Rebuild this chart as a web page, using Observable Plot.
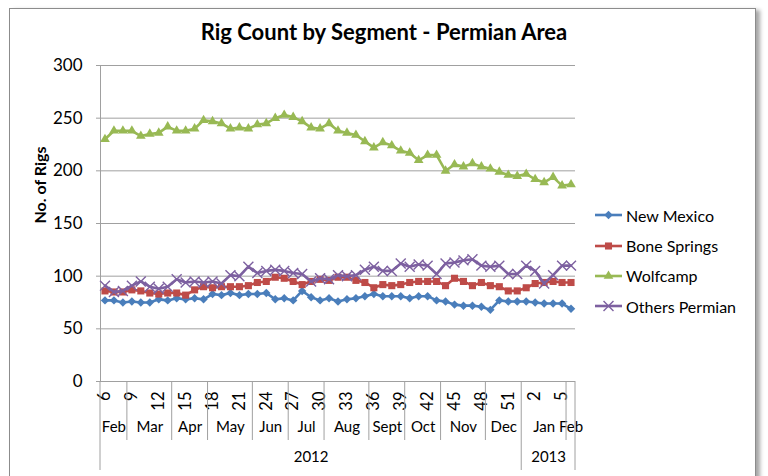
<!DOCTYPE html>
<html><head><meta charset="utf-8">
<script src="https://cdn.jsdelivr.net/npm/d3@7"></script>
<script src="https://cdn.jsdelivr.net/npm/@observablehq/plot@0.6"></script>
<style>
body{margin:0;background:#fff;font-family:Lato,"Open Sans",sans-serif;}
#wrap{position:relative;width:768px;height:476px;overflow:hidden;background:#fff;}
#chart{position:absolute;left:0;top:0;}
#frame{position:absolute;left:9px;top:8px;width:745px;height:490px;border:1px solid #8c8c8c;box-shadow:4px 2px 4px rgba(0,0,0,0.35);pointer-events:none;}
#title{position:absolute;left:0;width:768px;top:18px;text-align:center;font-weight:bold;font-size:22px;color:#000;}
#legend{position:absolute;left:595px;top:200px;font-size:16px;color:#000;}
#legend .row{height:30.4px;display:flex;align-items:center;}
#legend svg{margin-right:3px;}
</style></head>
<body>
<div id="wrap"><div id="chart"></div><div id="frame"></div><div id="title">Rig Count by Segment - Permian Area</div><div id="legend"></div></div>
<script>
// Week numbers (2012 wk 6 .. 2013 wk 6)
const weeks = [6,7,8,9,10,11,12,13,14,15,16,17,18,19,20,21,22,23,24,25,26,27,28,29,30,31,32,33,34,35,36,37,38,39,40,41,42,43,44,45,46,47,48,49,50,51,52,1,2,3,4,5,6];
const months = ["Feb","Mar","Apr","May","Jun","Jul","Aug","Sept","Oct","Nov","Dec","Jan","Feb"];
const monthWeeks = [3,5,4,5,4,4,5,4,4,5,4,5,1];
const years = ["2012","2013"];
const yearWeeks = [47,6];
const yTicks = [0,50,100,150,200,250,300];

const newMexico = [77,77,75,76,75,75,78,77,79,78,79,78,83,82,84,82,83,83,84,78,79,77,86,80,77,79,76,78,79,81,83,81,81,81,79,81,81,77,76,73,72,72,71,68,77,76,76,76,75,74,74,74,69];
const boneSprings = [86,85,85,87,86,84,83,84,84,82,87,90,89,90,90,90,91,94,95,99,98,95,92,95,97,96,99,99,96,94,89,92,91,92,94,95,95,95,91,98,95,91,94,91,90,86,86,89,93,94,95,94,94];
const wolfcamp = [230,238,238,238,233,235,236,242,238,238,240,248,247,245,240,241,240,244,245,250,253,251,247,241,240,245,238,236,234,228,222,227,224,219,217,210,215,215,200,206,204,207,204,202,199,196,195,197,192,189,194,186,187];
const othersPermian = [91,85,86,91,95,90,88,90,97,94,95,94,95,93,101,100,109,103,105,106,105,103,102,95,98,97,101,100,101,106,109,105,105,112,109,111,110,102,112,113,115,116,110,109,110,102,102,110,105,93,101,110,110];

const series = [
  {name:"New Mexico", values:newMexico, color:"#4a7ebb", symbol:"diamond2", r:3.8, filled:true},
  {name:"Bone Springs", values:boneSprings, color:"#be4b48", symbol:"square", r:4, filled:true},
  {name:"Wolfcamp", values:wolfcamp, color:"#98b954", symbol:"triangle", r:3.6, filled:true},
  {name:"Others Permian", values:othersPermian, color:"#7d60a0", symbol:"times", r:4.6, filled:false}
];

const N = weeks.length;
const idx = d3.range(N);
const tickIdx = idx.filter(i => i % 3 === 0);

function groups(names, counts) {
  let s = 0;
  return names.map((n, k) => { const g = {name:n, start:s, end:s+counts[k], mid:s+(counts[k]-1)/2}; s += counts[k]; return g; });
}
const monthRows = groups(months, monthWeeks);
const yearRows = groups(years, yearWeeks);

const seriesMarks = series.flatMap(s => [
  Plot.line(idx, {x: i => i, y: i => s.values[i], stroke: s.color, strokeWidth: 2.6}),
  Plot.dot(idx, s.filled
    ? {x: i => i, y: i => s.values[i], symbol: s.symbol, r: s.r, fill: s.color, stroke: "none"}
    : {x: i => i, y: i => s.values[i], symbol: s.symbol, r: s.r, stroke: s.color, strokeWidth: 1.4, fill: "none"})
]);

const plot = Plot.plot({
  width: 768, height: 476,
  marginLeft: 100, marginRight: 193, marginTop: 65, marginBottom: 95,
  style: {background: "transparent", fontFamily: "Lato, 'Open Sans', sans-serif", fontSize: "15px", color: "#000", overflow: "visible"},
  x: {type: "linear", domain: [-0.5, N - 0.5], axis: null},
  y: {domain: [0, 300], axis: null},
  marks: [
    Plot.gridY(yTicks, {stroke: "#a0a0a0", strokeOpacity: 1, strokeWidth: 1}),
    Plot.axisY(yTicks, {tickSize: 4, tickPadding: 14, fontSize: 17, stroke: "#a0a0a0", label: null}),
    Plot.ruleX([-0.5], {stroke: "#a0a0a0"}),
    ...seriesMarks,
    Plot.text(tickIdx, {x: i => i, text: i => String(weeks[i]), frameAnchor: "bottom", rotate: -90, textAnchor: "end", lineAnchor: "middle", dy: 10, fontSize: 16.5}),
    Plot.text(monthRows, {x: "mid", text: "name", frameAnchor: "bottom", dy: 50, fontSize: 15}),
    Plot.text(yearRows, {x: "mid", text: "name", frameAnchor: "bottom", dy: 80, fontSize: 15}),
    Plot.text(["No. of Rigs"], {frameAnchor: "left", text: d => d, rotate: -90, dx: -60, fontWeight: "bold", fontSize: 16})
  ]
});
document.getElementById("chart").appendChild(plot);

// Category table lines below the axis, placed through the plot's scales
const xs = plot.scale("x"), ys = plot.scale("y");
const y0 = ys.apply(0);
const g = d3.select(plot).append("g").attr("stroke", "#a0a0a0").attr("stroke-width", 1);
const vline = (xv, len) => g.append("line").attr("x1", xs.apply(xv)).attr("x2", xs.apply(xv)).attr("y1", y0).attr("y2", y0 + len);
monthRows.slice(1).forEach(m => { if (!yearRows.some(yr => yr.start === m.start)) vline(m.start - 0.5, 59); });
yearRows.forEach(yr => vline(yr.start - 0.5, 89));
vline(N - 0.5, 89);

// Legend
const leg = d3.select("#legend");
series.forEach(s => {
  const row = leg.append("div").attr("class", "row");
  const sv = row.append("svg").attr("width", 28).attr("height", 14);
  sv.append("line").attr("x1", 0).attr("x2", 27).attr("y1", 7).attr("y2", 7).attr("stroke", s.color).attr("stroke-width", 2.6);
  const sym = {diamond2: d3.symbolDiamond2, square: d3.symbolSquare, triangle: d3.symbolTriangle, times: d3.symbolTimes}[s.symbol];
  const p = sv.append("path").attr("transform", "translate(13.5,7)").attr("d", d3.symbol(sym, s.r * s.r * Math.PI)());
  if (s.filled) p.attr("fill", s.color); else p.attr("fill", "none").attr("stroke", s.color).attr("stroke-width", 1.4);
  row.append("span").text(s.name);
});
</script>
</body></html>
